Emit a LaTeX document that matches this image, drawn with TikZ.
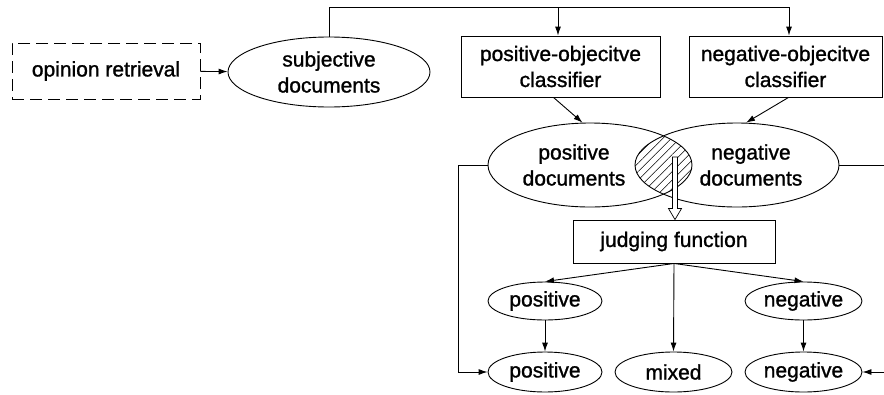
\documentclass[tikz,border=0pt]{standalone}
\usepackage{fontspec}
\setmainfont{Liberation Sans}[AutoFakeBold=1.2]
\usetikzlibrary{shapes.geometric,arrows.meta,patterns.meta,calc}
\begin{document}
\begin{tikzpicture}[x=1pt,y=-1pt,
  every node/.style={font=\fontsize{21}{26}\selectfont\bfseries, align=center, inner sep=0pt},
  box/.style={draw, line width=0.9pt, rectangle},
  ell/.style={draw, line width=0.9pt, ellipse},
  conn/.style={line width=0.9pt},
  arr/.style={conn, -{Latex[length=9pt,width=6pt]}}]
\useasboundingbox (0,0) rectangle (884,394);
% hatched intersection
\begin{scope}
  \clip (590,165) ellipse [x radius=102, y radius=42];
  \fill[pattern={Lines[angle=45,distance=6pt,line width=0.6pt]}] (737,165) ellipse [x radius=102, y radius=42];
\end{scope}
\node[box, dash pattern=on 12pt off 6pt, minimum width=188pt, minimum height=56pt] (op) at (106,71) {opinion retrieval};
\node[ell, minimum width=202pt, minimum height=70pt] (subj) at (329,72) {subjective\\documents};
\node[box, minimum width=199pt, minimum height=61pt] (posc) at (560.5,66.5) {positive-objecitve\\classifier};
\node[box, minimum width=193pt, minimum height=61pt] (negc) at (785.5,66.5) {negative-objecitve\\classifier};
\node[ell, minimum width=204pt, minimum height=84pt] (posd) at (590,165) {};
\node[ell, minimum width=204pt, minimum height=84pt] (negd) at (737,165) {};
\node at (574,165) {positive\\documents};
\node at (751,165) {negative\\documents};
\node[box, minimum width=202pt, minimum height=43pt] (jf) at (674,241.5) {judging function};
\node[ell, minimum width=114pt, minimum height=38pt] (posu) at (545,301) {positive};
\node[ell, minimum width=117pt, minimum height=38pt] (negu) at (803.5,301) {negative};
\node[ell, minimum width=114pt, minimum height=40pt] (posb) at (545,372) {positive};
\node[ell, minimum width=117pt, minimum height=40pt] (mix) at (673.5,372) {mixed};
\node[ell, minimum width=117pt, minimum height=40pt] (negb) at (803.5,372) {negative};
% connectors
\draw[arr] (op) -- (subj);
\coordinate (t1) at (558,7);
\coordinate (t2) at (789,7);
\draw[conn] (subj.north) |- (t2);
\draw[arr] (t1) -- (t1 |- posc.north);
\draw[arr] (t2) -- (t2 |- negc.north);
\draw[arr] ([xshift=-7pt]posc.south) -- (posd.100);
\draw[arr] ([xshift=3pt]negc.south) -- (negd.78);
% hollow arrow
\coordinate (h) at (675,157);
\draw[line width=0.7pt, fill=white] ($(h)+(-2.5,0)$) -- ($(h)+(2.5,0)$) -- ($(jf.north -| h)+(2.5,-11)$) -- ($(jf.north -| h)+(6.5,-11)$) -- (jf.north -| h) -- ($(jf.north -| h)+(-6.5,-11)$) -- ($(jf.north -| h)+(-2.5,-11)$) -- cycle;
\draw[arr] (jf.south) -- (posu.north);
\draw[arr] (jf.south) -- (negu.north);
\draw[arr] (jf.south) -- (mix.north);
\draw[arr] (posu) -- (posb);
\draw[arr] (negu) -- (negb);
\coordinate (L) at (458,165);
\draw[arr] (posd.west) -- (L) |- (posb.west);
\coordinate (R1) at (884,165);
\coordinate (R2) at (884,372);
\draw[conn] (negd.east) -- (R1);
\draw[arr] (R2) -- (negb.east);
\end{tikzpicture}
\end{document}
